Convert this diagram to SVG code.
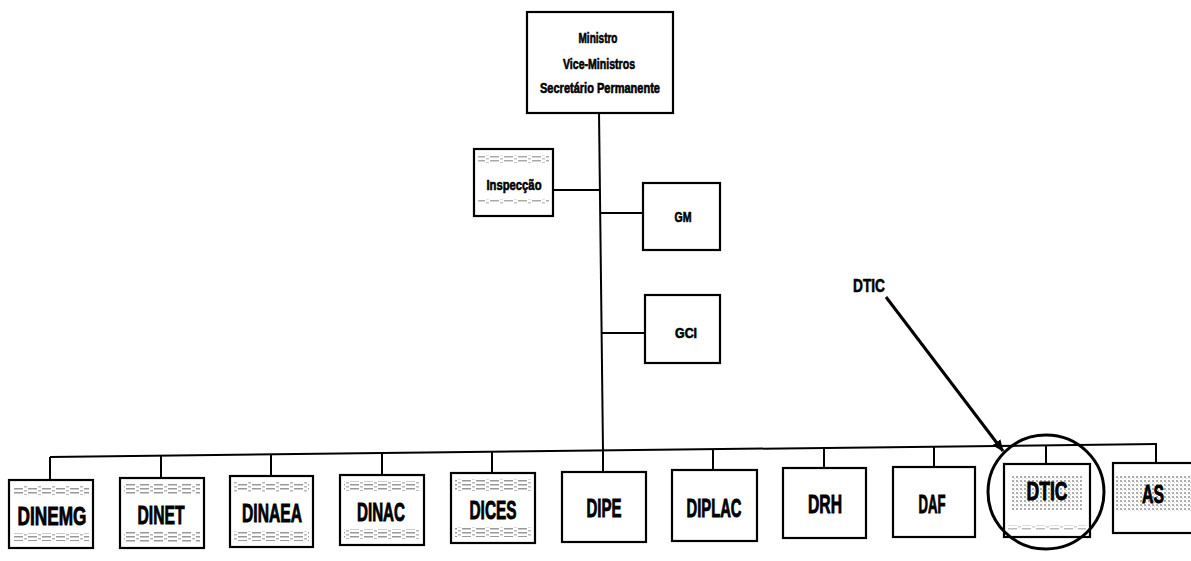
<svg xmlns="http://www.w3.org/2000/svg" width="1191" height="561" viewBox="0 0 1191 561">
<style>
.box{fill:#fff;stroke:#000;stroke-width:2.2}
.ln{stroke:#000;stroke-width:2;fill:none}
.t{font-family:"Liberation Sans Narrow","Liberation Sans",Arial,sans-serif;font-weight:bold;fill:#000;stroke:#000;stroke-width:0.6}
.big{font-size:26px;stroke-width:0.9}
.sm{font-size:14px}
.band{fill:url(#noise)}
.gray{fill:url(#dots)}
</style>
<defs>
<pattern id="noise" width="14" height="4" patternUnits="userSpaceOnUse">
<rect x="0" y="0" width="9" height="1.5" fill="#555"/>
<rect x="10" y="2" width="3" height="1.5" fill="#888"/>
</pattern>
<pattern id="dots" width="4" height="4" patternUnits="userSpaceOnUse">
<rect x="0" y="0" width="2" height="2" fill="#777"/>
<rect x="2" y="2" width="1" height="1" fill="#aaa"/>
</pattern>
<marker id="arr" markerWidth="12" markerHeight="10" refX="11" refY="5" orient="auto" markerUnits="userSpaceOnUse">
<path d="M0,0 L12,5 L0,10 z" fill="#000"/>
</marker>
</defs>

<g id="connectors">
<line class="ln" x1="599" y1="112" x2="603" y2="451"/>
<line class="ln" x1="553" y1="190" x2="600" y2="190"/>
<line class="ln" x1="600" y1="213" x2="643" y2="213"/>
<line class="ln" x1="602" y1="333" x2="645" y2="333"/>
<line class="ln" x1="50" y1="457" x2="1157" y2="444"/>
<line class="ln" x1="50" y1="457" x2="50" y2="480"/>
<line class="ln" x1="161" y1="456" x2="161" y2="478"/>
<line class="ln" x1="271" y1="454" x2="271" y2="476"/>
<line class="ln" x1="382" y1="453" x2="382" y2="475"/>
<line class="ln" x1="492" y1="452" x2="492" y2="473"/>
<line class="ln" x1="603" y1="450" x2="603" y2="472"/>
<line class="ln" x1="713" y1="449" x2="713" y2="470"/>
<line class="ln" x1="824" y1="448" x2="824" y2="468"/>
<line class="ln" x1="934" y1="447" x2="934" y2="467"/>
<line class="ln" x1="1046" y1="445" x2="1046" y2="464"/>
<line class="ln" x1="1156" y1="444" x2="1156" y2="462"/>
<line x1="886" y1="297" x2="1003" y2="451" stroke="#000" stroke-width="3" marker-end="url(#arr)"/>
</g>

<g id="ministro">
<rect class="box" x="527" y="12" width="146" height="101"/>
<text class="t sm" x="598" y="43" text-anchor="middle" textLength="39" lengthAdjust="spacingAndGlyphs">Ministro</text>
<text class="t sm" x="599" y="69" text-anchor="middle" textLength="72" lengthAdjust="spacingAndGlyphs">Vice-Ministros</text>
<text class="t sm" x="600" y="93" text-anchor="middle" textLength="120" lengthAdjust="spacingAndGlyphs">Secretário Permanente</text>
</g>

<g id="inspeccao">
<rect class="box" x="474" y="149" width="79" height="67"/>
<rect class="band" x="478" y="155" width="71" height="8" opacity="0.5"/>
<rect class="band" x="478" y="199" width="71" height="5" opacity="0.5"/>
<text class="t sm" x="514" y="190" text-anchor="middle" textLength="55" lengthAdjust="spacingAndGlyphs">Inspecção</text>
</g>

<g id="gm">
<rect class="box" x="643" y="183" width="77" height="67"/>
<text class="t sm" x="683" y="222" text-anchor="middle" textLength="17" lengthAdjust="spacingAndGlyphs">GM</text>
</g>

<g id="gci">
<rect class="box" x="645" y="295" width="75" height="68"/>
<text class="t sm" x="686" y="338" text-anchor="middle" textLength="22" lengthAdjust="spacingAndGlyphs">GCI</text>
</g>

<g id="dtic-label">
<text class="t" font-size="19" x="869" y="292" text-anchor="middle" textLength="32" lengthAdjust="spacingAndGlyphs">DTIC</text>
</g>

<g id="dinemg">
<rect class="box" x="9" y="480" width="84" height="68"/>
<rect class="band" x="13" y="486" width="76" height="9" opacity="0.6"/>
<rect class="band" x="13" y="533" width="76" height="8" opacity="0.6"/>
<text class="t big" x="52" y="525" text-anchor="middle" textLength="69" lengthAdjust="spacingAndGlyphs">DINEMG</text>
</g>
<g id="dinet">
<rect class="box" x="120" y="478" width="84" height="70"/>
<rect class="band" x="124" y="484" width="76" height="10" opacity="0.6"/>
<rect class="band" x="124" y="532" width="76" height="10" opacity="0.6"/>
<text class="t big" x="161" y="524" text-anchor="middle" textLength="47" lengthAdjust="spacingAndGlyphs">DINET</text>
</g>
<g id="dinaea">
<rect class="box" x="230" y="476" width="83" height="71"/>
<rect class="band" x="234" y="482" width="75" height="10" opacity="0.6"/>
<rect class="band" x="234" y="531" width="75" height="10" opacity="0.6"/>
<text class="t big" x="272" y="522" text-anchor="middle" textLength="60" lengthAdjust="spacingAndGlyphs">DINAEA</text>
</g>
<g id="dinac">
<rect class="box" x="340" y="475" width="84" height="70"/>
<rect class="band" x="344" y="481" width="76" height="10" opacity="0.6"/>
<rect class="band" x="344" y="529" width="76" height="10" opacity="0.6"/>
<text class="t big" x="381" y="521" text-anchor="middle" textLength="48" lengthAdjust="spacingAndGlyphs">DINAC</text>
</g>
<g id="dices">
<rect class="box" x="451" y="473" width="84" height="70"/>
<rect class="band" x="455" y="479" width="76" height="12" opacity="0.6"/>
<rect class="band" x="455" y="527" width="76" height="10" opacity="0.6"/>
<text class="t big" x="493" y="519" text-anchor="middle" textLength="47" lengthAdjust="spacingAndGlyphs">DICES</text>
</g>
<g id="dipe">
<rect class="box" x="562" y="472" width="84" height="70"/>
<text class="t big" x="604" y="517" text-anchor="middle" textLength="35" lengthAdjust="spacingAndGlyphs">DIPE</text>
</g>
<g id="diplac">
<rect class="box" x="672" y="470" width="85" height="71"/>
<text class="t big" x="714" y="517" text-anchor="middle" textLength="55" lengthAdjust="spacingAndGlyphs">DIPLAC</text>
</g>
<g id="drh">
<rect class="box" x="783" y="468" width="83" height="70"/>
<text class="t big" x="825" y="513" text-anchor="middle" textLength="34" lengthAdjust="spacingAndGlyphs">DRH</text>
</g>
<g id="daf">
<rect class="box" x="893" y="467" width="82" height="70"/>
<text class="t big" x="932" y="513" text-anchor="middle" textLength="27" lengthAdjust="spacingAndGlyphs">DAF</text>
</g>
<g id="dtic">
<rect class="box" x="1004" y="464" width="86" height="73"/>
<rect class="gray" x="1012" y="476" width="70" height="34" opacity="0.6"/>
<rect class="band" x="1008" y="525" width="78" height="5" opacity="0.4"/>
<text class="t big" x="1047" y="500" text-anchor="middle" textLength="41" lengthAdjust="spacingAndGlyphs">DTIC</text>
</g>
<g id="as">
<rect class="box" x="1113" y="463" width="90" height="70"/>
<rect class="gray" x="1116" y="475" width="75" height="36" opacity="0.6"/>
<text class="t big" x="1153" y="503" text-anchor="middle" textLength="22" lengthAdjust="spacingAndGlyphs">AS</text>
</g>
<g id="highlight">
<ellipse cx="1046" cy="492" rx="58" ry="57" fill="none" stroke="#000" stroke-width="3"/>
</g>
</svg>
